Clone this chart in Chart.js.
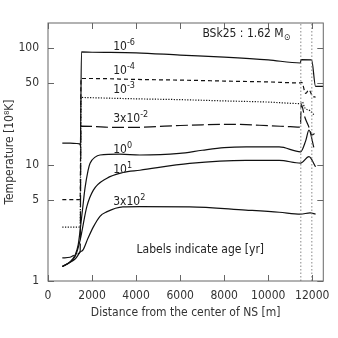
<!DOCTYPE html>
<html>
<head>
<meta charset="utf-8">
<script src="https://cdn.jsdelivr.net/npm/chart.js@4.4.1/dist/chart.umd.min.js"></script>
<style>
  html, body { margin: 0; padding: 0; background: #fff; }
  #wrap { width: 338px; height: 338px; }
</style>
</head>
<body>
<div id="wrap"><canvas id="tempChart" width="338" height="338"></canvas></div>
<script>
const FONT = '"DejaVu Sans Condensed", "DejaVu Sans", sans-serif';

// axis ticks
const xTicks = [0, 2000, 4000, 6000, 8000, 10000, 12000];
const yTicks = [1, 5, 10, 50, 100];

// crust boundaries (gray dotted verticals)
const boundaryX = [11480, 11980];

// temperature profiles [10^8 K] vs distance [m], one pair per age
const age1e6X = [650, 1000, 1300, 1440, 1470, 1520, 2000, 4000, 6000, 8000, 10000, 11460, 11490, 11970, 12150, 12500];
const age1e6T = [15.3, 15.3, 15.2, 15.1, 14.6, 93, 92.5, 91.5, 87.5, 84, 79.5, 74.8, 80, 79.5, 47, 47];

const age1e4X = [650, 1000, 1300, 1460, 1500, 2000, 4000, 6000, 8000, 10000, 11460, 11520, 11700, 11850, 12000, 12150];
const age1e4T = [5.0, 5.0, 5.0, 5.0, 55, 55, 54, 53.3, 52.3, 51.4, 50.4, 51, 41, 44, 39, 38];

const age1e3X = [650, 1000, 1300, 1460, 1500, 2000, 4000, 6000, 8000, 10000, 11460, 11550, 11650, 11900, 12100];
const age1e3T = [2.9, 2.9, 2.9, 2.9, 37.8, 37.6, 36.8, 36.2, 35.3, 34.5, 33.5, 34.5, 31, 29, 26.5];

const age3e2X = [650, 1000, 1300, 1460, 1500, 2000, 3000, 4000, 5000, 6000, 7000, 8000, 9000, 10000, 11000, 11460, 11500, 11650, 11850, 12000, 12100];
const age3e2T = [1.58, 1.6, 1.7, 1.8, 21.4, 21.3, 20.9, 20.9, 21.3, 21.7, 22.0, 22.2, 22.1, 21.6, 21.2, 21.0, 33, 26, 21, 18, 18.5];

const age1e0X = [650, 1000, 1230, 1370, 1460, 1590, 1680, 1820, 1910, 2140, 2360, 3260, 4170, 5970, 7000, 8000, 9000, 10500, 11470, 11700, 11850, 12070];
const age1e0T = [1.33, 1.46, 1.67, 2.04, 2.74, 4.49, 6.28, 8.94, 10.3, 11.6, 12.1, 12.3, 12.1, 12.5, 13.3, 14.0, 14.2, 14.2, 12.9, 16, 19.8, 14.1];

const age1e1X = [650, 1000, 1230, 1460, 1760, 2060, 2660, 3400, 4170, 6430, 8980, 10500, 11470, 11850, 12150];
const age1e1T = [1.33, 1.45, 1.62, 2.25, 4.34, 6.04, 7.62, 8.56, 8.95, 10.25, 10.9, 10.9, 10.3, 11.7, 9.6];

const age3e2yX = [650, 1000, 1230, 1460, 1590, 1820, 2060, 2360, 2660, 3400, 4170, 6430, 8980, 10500, 11470, 11900, 12150];
const age3e2yT = [1.33, 1.45, 1.54, 1.77, 1.85, 2.34, 2.92, 3.6, 3.93, 4.34, 4.36, 4.34, 4.07, 3.9, 3.76, 3.85, 3.76];

// curve labels: text parts, anchor (left, baseline) in data units
const curveLabels = [
    [['10', ''], ['-6', 'sup']],
    [['10', ''], ['-4', 'sup']],
    [['10', ''], ['-3', 'sup']],
    [['3x10', ''], ['-2', 'sup']],
    [['10', ''], ['0', 'sup']],
    [['10', ''], ['1', 'sup']],
    [['3x10', ''], ['2', 'sup']],
    [['BSk25 : 1.62 M', ''], ['\u2299', 'sub']],
    [['Labels indicate age [yr]', '']]
];
const curveLabelX = [2960, 2960, 2960, 2960, 2960, 2960, 2960, 7010, 4020];
const curveLabelT = [96, 60.7, 40.9, 23.1, 12.7, 8.56, 4.5, 125, 1.73];

function pairs(xs, ys) {
    return xs.map((x, i) => ({ x: x, y: ys[i] }));
}

function line(xs, ys, dash) {
    return {
        data: pairs(xs, ys),
        showLine: true,
        borderColor: '#111',
        borderWidth: 1.2,
        borderDash: dash,
        pointRadius: 0,
        cubicInterpolationMode: 'monotone'
    };
}

function drawRich(ctx, parts, x, y) {
    let cx = x;
    parts.forEach(([text, kind]) => {
        const size = kind ? 9 : 12;
        ctx.font = size + 'px ' + FONT;
        const dy = kind === 'sup' ? -5 : (kind === 'sub' ? 3 : 0);
        ctx.fillText(text, cx, y + dy);
        cx += ctx.measureText(text).width;
    });
}

// frame, inward ticks on all four sides, and text labels
const framePlugin = {
    id: 'frame',
    afterDatasetsDraw(chart) {
        const { ctx, chartArea: a, scales } = chart;
        ctx.save();
        ctx.strokeStyle = '#666';
        ctx.lineWidth = 1;
        ctx.strokeRect(a.left, a.top, a.right - a.left, a.bottom - a.top);
        const len = 6;
        ctx.beginPath();
        xTicks.forEach(v => {
            const px = Math.round(scales.x.getPixelForValue(v)) + 0.5;
            ctx.moveTo(px, a.bottom); ctx.lineTo(px, a.bottom - len);
            ctx.moveTo(px, a.top); ctx.lineTo(px, a.top + len);
        });
        yTicks.forEach(v => {
            const py = Math.round(scales.y.getPixelForValue(v)) + 0.5;
            ctx.moveTo(a.left, py); ctx.lineTo(a.left + len, py);
            ctx.moveTo(a.right, py); ctx.lineTo(a.right - len, py);
        });
        ctx.stroke();

        ctx.fillStyle = '#222';
        ctx.textAlign = 'left';
        ctx.textBaseline = 'alphabetic';
        curveLabels.forEach((parts, i) => {
            const px = scales.x.getPixelForValue(curveLabelX[i]);
            const py = scales.y.getPixelForValue(curveLabelT[i]);
            drawRich(ctx, parts, px, py);
        });
        ctx.restore();
    }
};

Chart.defaults.font.family = FONT;
Chart.defaults.font.size = 12;
Chart.defaults.color = '#333';

const datasets = [
    {
        data: [{ x: boundaryX[0], y: 1 }, { x: boundaryX[0], y: 165 }],
        showLine: true, borderColor: '#888', borderWidth: 1, borderDash: [1.5, 2], pointRadius: 0
    },
    {
        data: [{ x: boundaryX[1], y: 1 }, { x: boundaryX[1], y: 165 }],
        showLine: true, borderColor: '#888', borderWidth: 1, borderDash: [1.5, 2], pointRadius: 0
    },
    line(age1e6X, age1e6T, []),
    line(age1e4X, age1e4T, [4, 3]),
    line(age1e3X, age1e3T, [1.2, 1.5]),
    line(age3e2X, age3e2T, [12, 4]),
    line(age1e0X, age1e0T, []),
    line(age1e1X, age1e1T, []),
    line(age3e2yX, age3e2yT, [])
];

new Chart(document.getElementById('tempChart'), {
    type: 'scatter',
    data: { datasets: datasets },
    options: {
        responsive: false,
        animation: false,
        layout: { padding: { top: 23, right: 14, left: 0, bottom: 0 } },
        plugins: {
            legend: { display: false },
            tooltip: { enabled: false }
        },
        scales: {
            x: {
                type: 'linear',
                min: 0,
                max: 12500,
                afterBuildTicks: s => { s.ticks = xTicks.map(v => ({ value: v })); },
                afterFit: s => { s.height = 57; },
                grid: { display: false, drawTicks: false },
                border: { display: false },
                ticks: { padding: 8, color: '#333', maxRotation: 0, callback: v => String(v) },
                title: {
                    display: true,
                    text: 'Distance from the center of NS [m]',
                    color: '#333',
                    padding: { top: 0, bottom: 18 }
                }
            },
            y: {
                type: 'logarithmic',
                min: 1,
                max: 165,
                afterBuildTicks: s => { s.ticks = yTicks.map(v => ({ value: v })); },
                afterFit: s => { s.width = 48; },
                grid: { display: false, drawTicks: false },
                border: { display: false },
                ticks: { padding: 9, color: '#333', callback: v => String(v) },
                title: {
                    display: true,
                    text: 'Temperature [10\u2078K]',
                    color: '#333',
                    padding: { top: 3, bottom: 0 }
                }
            }
        }
    },
    plugins: [framePlugin]
});
</script>
</body>
</html>
